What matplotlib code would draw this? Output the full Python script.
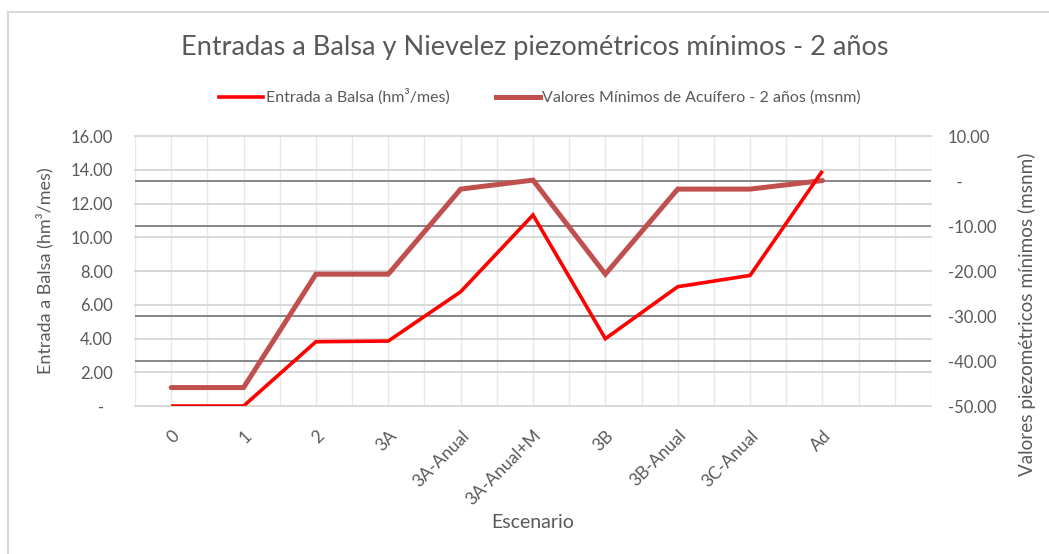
import matplotlib
matplotlib.use("Agg")
import matplotlib.pyplot as plt
import numpy as np
from matplotlib.transforms import blended_transform_factory, ScaledTranslation
from matplotlib.lines import Line2D
from matplotlib.ticker import FuncFormatter

plt.rcParams['font.family'] = ['Lato', 'DejaVu Sans']

# Scenarios (one trailing empty slot on the category axis)
escenarios = ["0", "1", "2", "3A", "3A-Anual", "3A-Anual+M", "3B",
              "3B-Anual", "3C-Anual", "Ad"]
n_slots = len(escenarios) + 1

# Inflow to the reservoir (hm3/month)
entrada_balsa = [0.0, 0.0, 3.81, 3.85, 6.77, 11.32, 3.99, 7.07, 7.74, 13.93]

# Minimum aquifer levels over 2 years (m a.s.l.)
minimos_acuifero = [-45.9, -45.9, -20.7, -20.7, -1.8, 0.2, -20.7, -1.8, -1.8, 0.1]

left_ticks = np.arange(0, 16.01, 2)
right_ticks = np.arange(-50, 10.01, 10)

TXT = "#595959"
RED = "#FF0000"
BROWN = "#C0504D"

fig = plt.figure(figsize=(10.49, 5.54), dpi=100)
ax = fig.add_axes([0.1287, 0.2671, 0.8875 - 0.1287, 0.7545 - 0.2671])
ax2 = ax.twinx()
# primary series is drawn above the secondary one
ax.set_zorder(ax2.get_zorder() + 1)
ax.patch.set_visible(False)

x = np.arange(len(escenarios))
ax.set_xlim(-0.5, n_slots - 0.5)
ax.set_ylim(left_ticks[0], left_ticks[-1])
ax2.set_ylim(right_ticks[0], right_ticks[-1])

# gridlines live on the back axes
for v in right_ticks[1:-1]:
    ax2.axhline(v, color="#868686", lw=1.4, zorder=0.5)
ly = blended_transform_factory(ax2.transAxes, ax.transData)
for v in left_ticks:
    ax2.plot([0, 1], [v, v], transform=ly, color="#d9d9d9", lw=1.4,
             zorder=0.6, clip_on=False)
for xv in np.arange(-0.5, n_slots - 0.49, 0.5):
    ax2.axvline(xv, color="#e8e8e8", lw=1.0, zorder=0.4)

ax2.plot(x, minimos_acuifero, color=BROWN, lw=3.6, zorder=2,
         solid_capstyle="round", solid_joinstyle="miter")
ax.plot(x, entrada_balsa, color=RED, lw=2.6, zorder=3,
        solid_capstyle="butt", solid_joinstyle="miter")

for a in (ax, ax2):
    for s in a.spines.values():
        s.set_visible(False)

ax.set_xticks(x)
ax.set_xticklabels(escenarios, rotation=45, ha="right", va="center",
                   rotation_mode="anchor", fontsize=12.5, color=TXT)
ax.tick_params(axis="x", length=0, pad=0)
off = ScaledTranslation(6 / 100, -27 / 100, fig.dpi_scale_trans)
for lab in ax.get_xticklabels():
    lab.set_transform(lab.get_transform() + off)

fmt_l = FuncFormatter(lambda v, p: "-  " if abs(v) < 1e-9 else f"{v:.2f}")
fmt_r = FuncFormatter(lambda v, p: "  -" if abs(v) < 1e-9 else f"{v:.2f}")
ax.set_yticks(left_ticks)
ax.yaxis.set_major_formatter(fmt_l)
ax.tick_params(axis="y", length=0, pad=16, labelsize=12, labelcolor=TXT)
ax2.set_yticks(right_ticks)
ax2.yaxis.set_major_formatter(fmt_r)
ax2.tick_params(axis="y", length=0, pad=12, labelsize=12, labelcolor=TXT)

ax.set_ylabel("Entrada a Balsa (hm³/mes)", fontsize=13, color=TXT, labelpad=12)
fig.text(1027 / 1049, 1 - 314 / 554, "Valores piezométricos mínimos (msnm)",
         fontsize=13.6, color=TXT, rotation=90, ha="center", va="center")
fig.text(533 / 1049, 1 - 522 / 554, "Escenario", fontsize=14, color=TXT,
         ha="center", va="center")

fig.text(535 / 1049, 1 - 47 / 554,
         "Entradas a Balsa y Nievelez piezométricos mínimos - 2 años",
         fontsize=19.5, color=TXT, ha="center", va="center")

handles = [Line2D([], [], color=RED, lw=2.6),
           Line2D([], [], color=BROWN, lw=3.6)]
fig.legend(handles,
           ["Entrada a Balsa (hm³/mes)",
            "Valores Mínimos de Acuífero - 2 años (msnm)"],
           loc="center", bbox_to_anchor=(540 / 1049, 1 - 97 / 554), ncol=2,
           frameon=False, fontsize=11.5, handlelength=2.75, handletextpad=0.15,
           columnspacing=2.9, labelcolor=TXT)

# chart-area border (left and top edges)
fig.add_artist(Line2D([7.5 / 1049, 7.5 / 1049], [0, 1 - 12 / 554],
                      transform=fig.transFigure, color="#d9d9d9", lw=1.5))
fig.add_artist(Line2D([7.5 / 1049, 1], [1 - 12 / 554, 1 - 12 / 554],
                      transform=fig.transFigure, color="#d9d9d9", lw=1.5))

fig.savefig("out.png", dpi=100)
